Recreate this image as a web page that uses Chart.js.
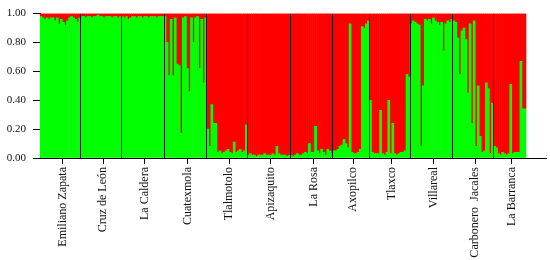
<!DOCTYPE html>
<html>
<head>
<meta charset="utf-8">
<script src="https://cdn.jsdelivr.net/npm/chart.js@4/dist/chart.umd.min.js"></script>
<style>
  html, body { margin: 0; padding: 0; background: #fff; }
  canvas { display: block; }
</style>
</head>
<body>
<canvas id="c" width="550" height="260"></canvas>
<script>
// Population names (x-axis labels)
const popNames = ["Emiliano Zapata", "Cruz de León", "La Caldera", "Cuatexmola", "Tlalmotolo",
  "Apizaquito", "La Rosa", "Axopilco", "Tlaxco", "Villareal", "Carbonero  Jacales", "La Barranca"];

// Membership to cluster 1 (green) for each individual, per population
const emilianoZapata = [0.98,0.97,0.96,0.97,0.96,0.97,0.97,0.95,0.97,0.93,0.96,0.94,0.92,0.95,0.97,0.98,0.97,0.96,0.94,0.97];
const cruzDeLeon = [0.98,0.98,0.97,0.98,0.98,0.97,0.98,0.98,0.99,0.98,0.98,0.97,0.98,0.98,0.98,0.97,0.98,0.98,0.97,0.98];
const laCaldera = [0.98,0.97,0.98,0.96,0.97,0.98,0.98,0.97,0.98,0.98,0.97,0.98,0.98,0.97,0.98,0.98,0.98,0.97,0.98,0.98,0.98];
const cuatexmola = [0.98,0.80,0.57,0.96,0.57,0.97,0.65,0.64,0.17,0.97,0.98,0.62,0.46,0.97,0.80,0.97,0.98,0.62,0.96,0.52,0.97];
const tlalmotolo = [0.20,0.08,0.37,0.24,0.24,0.04,0.05,0.03,0.04,0.05,0.06,0.04,0.03,0.11,0.04,0.05,0.06,0.04,0.05,0.23];
const apizaquito = [0.02,0.03,0.02,0.02,0.01,0.02,0.02,0.02,0.03,0.02,0.02,0.02,0.03,0.02,0.08,0.03,0.02,0.02,0.02,0.01,0.02];
const laRosa = [0.02,0.01,0.02,0.03,0.02,0.02,0.03,0.04,0.03,0.10,0.04,0.04,0.22,0.05,0.03,0.06,0.04,0.02,0.06,0.05,0.03];
const axopilco = [0.05,0.05,0.06,0.08,0.09,0.13,0.10,0.07,0.93,0.04,0.03,0.03,0.04,0.06,0.91,0.90,0.93,0.95];
const tlaxco = [0.40,0.04,0.03,0.03,0.03,0.33,0.03,0.02,0.04,0.40,0.03,0.24,0.03,0.02,0.03,0.04,0.04,0.05,0.58,0.56];
const villareal = [0.93,0.95,0.94,0.93,0.92,0.08,0.50,0.96,0.95,0.96,0.93,0.97,0.95,0.94,0.92,0.94,0.74,0.93,0.95,0.94,0.96];
const carboneroJacales = [0.95,0.94,0.83,0.58,0.88,0.90,0.82,0.45,0.93,0.24,0.95,0.08,0.50,0.15,0.04,0.05,0.52,0.48,0.03,0.38];
const laBarranca = [0.08,0.07,0.03,0.02,0.04,0.03,0.02,0.03,0.51,0.03,0.04,0.04,0.04,0.67,0.34,0.34];

// Y-axis tick values
const yTicks = [0, 0.2, 0.4, 0.6, 0.8, 1.0];

const groups = [emilianoZapata, cruzDeLeon, laCaldera, cuatexmola, tlalmotolo, apizaquito,
  laRosa, axopilco, tlaxco, villareal, carboneroJacales, laBarranca];

const greenVals = groups.flat();
const total = greenVals.length;
const boundaries = [];
const centers = [];
let acc = 0;
groups.forEach((g, k) => {
  centers.push(acc + g.length / 2 + 1);
  acc += g.length;
  if (k < groups.length - 1) boundaries.push(acc);
});

const greenData = greenVals.map((v, i) => ({ x: i + 0.5, y: v }));
const redData = greenVals.map((v, i) => ({ x: i + 0.5, y: 1 - v }));

const xMax = total * 506 / 486;
const serif = "'Liberation Serif', 'DejaVu Serif', serif";

new Chart(document.getElementById('c'), {
  type: 'bar',
  data: {
    datasets: [
      { label: 'K1', data: greenData, backgroundColor: '#00ff00', borderWidth: 0,
        barPercentage: 1, categoryPercentage: 1 },
      { label: 'K2', data: redData, backgroundColor: '#ff0000', borderWidth: 0,
        barPercentage: 1, categoryPercentage: 1 }
    ]
  },
  options: {
    responsive: false,
    animation: false,
    layout: { padding: { top: 10.4, right: 4, bottom: 0, left: 0 } },
    plugins: { legend: { display: false }, tooltip: { enabled: false } },
    scales: {
      x: {
        type: 'linear',
        stacked: true,
        offset: false,
        min: 0,
        max: xMax,
        position: 'bottom',
        afterBuildTicks: (s) => { s.ticks = centers.map(v => ({ value: v })); },
        afterFit: (s) => { s.height = 102; },
        ticks: {
          autoSkip: false,
          minRotation: 90,
          maxRotation: 90,
          padding: 3,
          color: '#111',
          font: { family: serif, size: 12 },
          callback: (v, i) => popNames[i]
        },
        grid: { offset: false, drawOnChartArea: false, drawTicks: true, tickLength: 6, tickColor: '#000', tickWidth: 1 },
        border: { display: true, color: '#000', width: 1 }
      },
      sep: {
        type: 'linear',
        offset: false,
        min: 0,
        max: xMax,
        position: 'top',
        afterBuildTicks: (s) => { s.ticks = boundaries.map(v => ({ value: v })); },
        afterFit: (s) => { s.height = 0; },
        ticks: { display: false },
        grid: { offset: false, drawOnChartArea: true, drawTicks: false, color: '#1a1a1a', lineWidth: 1, z: 1 },
        border: { display: false }
      },
      y: {
        stacked: true,
        min: 0,
        max: 1,
        afterBuildTicks: (s) => { s.ticks = yTicks.map(v => ({ value: v })); },
        afterFit: (s) => { s.width = 40; },
        ticks: {
          padding: 7,
          color: '#111',
          font: { family: serif, size: 11 },
          callback: (v) => Number(v).toFixed(2)
        },
        grid: { drawOnChartArea: false, drawTicks: true, tickLength: 7, tickColor: '#000', tickWidth: 1 },
        border: { display: true, color: '#000', width: 1 }
      }
    }
  }
});
</script>
</body>
</html>
